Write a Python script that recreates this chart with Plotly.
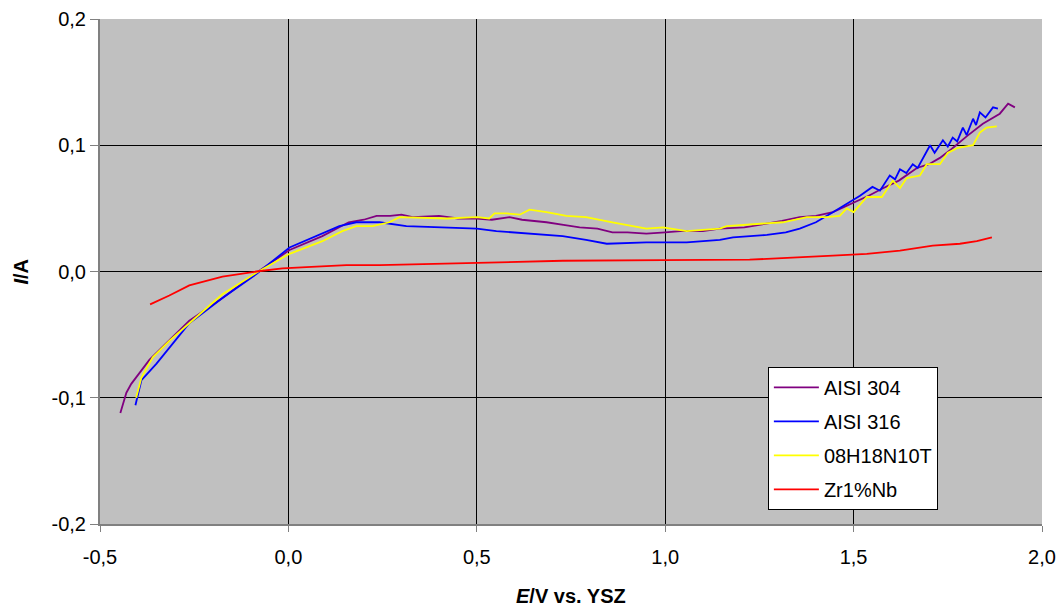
import plotly.graph_objects as go

# AISI 304 (purple)
e_304 = [-0.446, -0.43, -0.417, -0.369, -0.263, -0.175, -0.085, 0.003, 0.09, 0.16, 0.20, 0.234, 0.27, 0.30,
         0.33, 0.40, 0.45, 0.50, 0.54, 0.587, 0.62, 0.685, 0.73, 0.773, 0.82, 0.86, 0.90, 0.95, 1.00, 1.04,
         1.10, 1.145, 1.21, 1.27, 1.31, 1.357, 1.40, 1.445, 1.503, 1.54, 1.578, 1.62, 1.668, 1.70,
         1.729, 1.76, 1.80, 1.843, 1.888, 1.91, 1.928]
i_304 = [-0.112, -0.096, -0.089, -0.070, -0.039, -0.021, -0.001, 0.017, 0.028, 0.039, 0.041, 0.044, 0.044, 0.045,
         0.043, 0.044, 0.042, 0.042, 0.041, 0.043, 0.041, 0.039, 0.037, 0.035, 0.034, 0.031, 0.031, 0.030, 0.031, 0.032,
         0.032, 0.034, 0.035, 0.038, 0.040, 0.043, 0.044, 0.047, 0.055, 0.060, 0.066, 0.072, 0.082, 0.085,
         0.090, 0.097, 0.107, 0.117, 0.125, 0.133, 0.130]

# AISI 316 (blue)
e_316 = [-0.406, -0.39, -0.35, -0.263, -0.175, -0.085, 0.003, 0.135, 0.18, 0.242, 0.313, 0.42, 0.50,
         0.552, 0.64, 0.728, 0.79, 0.845, 0.95, 1.057, 1.145, 1.18, 1.27, 1.32, 1.357, 1.40, 1.445, 1.517,
         1.55, 1.57, 1.596, 1.61, 1.623, 1.64, 1.657, 1.67, 1.703, 1.715, 1.737, 1.75, 1.763, 1.775, 1.79,
         1.80, 1.817, 1.825, 1.835, 1.85, 1.87, 1.883]
i_316 = [-0.106, -0.086, -0.073, -0.041, -0.021, -0.002, 0.019, 0.036, 0.039, 0.039, 0.036, 0.035, 0.034,
         0.032, 0.030, 0.028, 0.025, 0.022, 0.023, 0.023, 0.025, 0.027, 0.029, 0.031, 0.034, 0.039, 0.047, 0.060,
         0.067, 0.064, 0.076, 0.073, 0.081, 0.078, 0.085, 0.082, 0.100, 0.094, 0.104, 0.099, 0.106, 0.103, 0.114,
         0.108, 0.121, 0.116, 0.126, 0.122, 0.130, 0.129]

# 08H18N10T (yellow)
e_08h = [-0.404, -0.39, -0.36, -0.316, -0.263, -0.175, -0.085, 0.003, 0.09, 0.143, 0.18, 0.223, 0.268,
         0.295, 0.42, 0.50, 0.533, 0.547, 0.579, 0.614, 0.64, 0.685, 0.738, 0.79, 0.86, 0.914, 0.95, 0.994,
         1.057, 1.10, 1.145, 1.163, 1.224, 1.312, 1.376, 1.429, 1.463, 1.482, 1.50, 1.535, 1.575, 1.604,
         1.623, 1.641, 1.676, 1.694, 1.729, 1.75, 1.777, 1.817, 1.835, 1.853, 1.88]
i_08h = [-0.100, -0.084, -0.068, -0.055, -0.041, -0.018, -0.001, 0.014, 0.024, 0.032, 0.036, 0.036, 0.039,
         0.043, 0.042, 0.043, 0.042, 0.046, 0.046, 0.045, 0.049, 0.047, 0.044, 0.043, 0.039, 0.036, 0.034, 0.035,
         0.032, 0.033, 0.034, 0.036, 0.037, 0.039, 0.043, 0.043, 0.044, 0.050, 0.047, 0.059, 0.059, 0.072,
         0.066, 0.074, 0.076, 0.085, 0.085, 0.094, 0.098, 0.100, 0.110, 0.114, 0.115]

# Zr1%Nb (red)
e_zr = [-0.367, -0.316, -0.263, -0.175, -0.085, -0.016, 0.048, 0.154, 0.242, 0.366, 0.533, 0.728, 0.994,
        1.145, 1.224, 1.27, 1.357, 1.445, 1.535, 1.623, 1.71, 1.782, 1.827, 1.867]
i_zr = [-0.026, -0.019, -0.011, -0.004, 0.000, 0.0024, 0.0035, 0.005, 0.005, 0.006, 0.007, 0.0085, 0.009,
        0.009, 0.0094, 0.010, 0.011, 0.0125, 0.014, 0.0165, 0.0205, 0.022, 0.024, 0.027]

x_ticks = [-0.5, 0.0, 0.5, 1.0, 1.5, 2.0]
x_labels = ["-0,5", "0,0", "0,5", "1,0", "1,5", "2,0"]
y_ticks = [-0.2, -0.1, 0.0, 0.1, 0.2]
y_labels = ["-0,2", "-0,1", "0,0", "0,1", "0,2"]

series = [
    ("AISI 304", e_304, i_304, "#800080"),
    ("AISI 316", e_316, i_316, "#0000FF"),
    ("08H18N10T", e_08h, i_08h, "#FFFF00"),
    ("Zr1%Nb", e_zr, i_zr, "#FF0000"),
]

fig = go.Figure()
for name, x, y, c in series:
    fig.add_trace(go.Scatter(x=x, y=y, mode="lines", name=name, legendgroup=name,
                             line=dict(color=c, width=1.8)))

font = "Liberation Sans, Arial, sans-serif"
fig.update_layout(
    width=1062, height=608,
    margin=dict(l=100, r=20, t=19, b=84, autoexpand=False),
    paper_bgcolor="white",
    plot_bgcolor="#C0C0C0",
    font=dict(family=font, size=20, color="black"),
    showlegend=True,
    legend=dict(x=0.709, y=0.311, xanchor="left", yanchor="top",
                bgcolor="white", bordercolor="black", borderwidth=1,
                font=dict(size=20, family=font), tracegroupgap=5, itemwidth=45),
    xaxis=dict(range=[-0.5, 2.0], tickvals=x_ticks, ticktext=x_labels, automargin=False,
               showgrid=True, gridcolor="black", gridwidth=1, zeroline=False,
               showline=True, linecolor="#808080", linewidth=2, mirror=False,
               ticks="outside", ticklen=6, tickcolor="#808080", ticklabelstandoff=8),
    yaxis=dict(range=[-0.2, 0.2], tickvals=y_ticks, ticktext=y_labels, automargin=False,
               showgrid=True, gridcolor="black", gridwidth=1, zeroline=False,
               showline=True, linecolor="#808080", linewidth=2, mirror=False,
               ticks="outside", ticklen=8, tickcolor="#808080"),
    annotations=[
        dict(text="<b><i>E</i>/V vs. YSZ</b>", xref="paper", yref="paper", x=0.5, y=-0.1426,
             xanchor="center", yanchor="middle", showarrow=False, font=dict(size=20)),
        dict(text="<b><i>I</i>/A</b>", xref="paper", yref="paper", x=-0.0849, y=0.5,
             xanchor="center", yanchor="middle", showarrow=False, textangle=-90, font=dict(size=20)),
    ],
)

fig.write_html("out.html")
